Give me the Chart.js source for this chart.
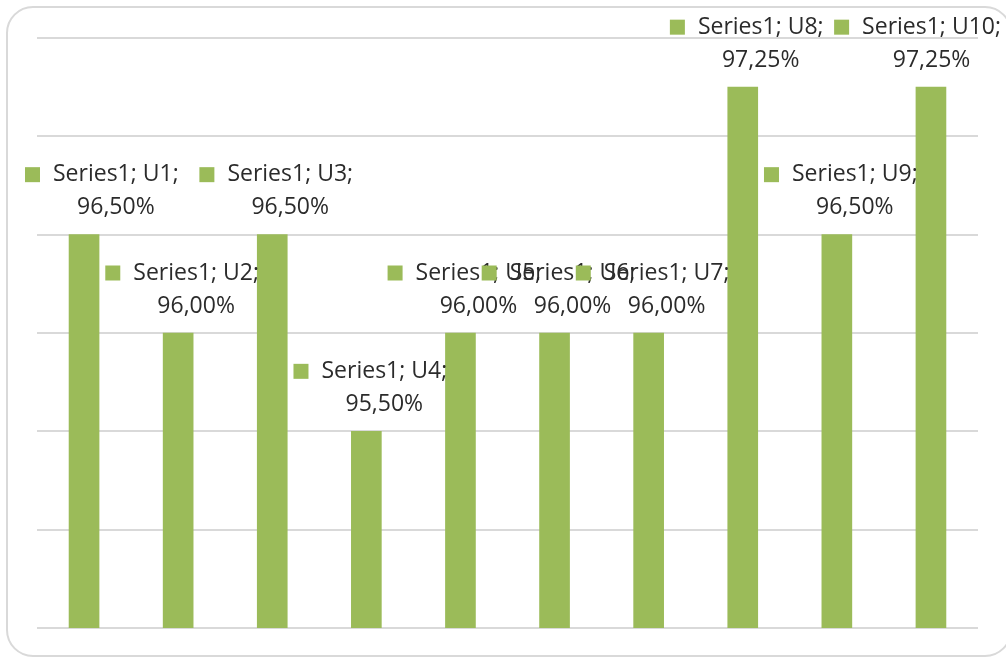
<!DOCTYPE html>
<html>
<head>
<meta charset="utf-8">
<script src="https://cdn.jsdelivr.net/npm/chart.js@4.4.1/dist/chart.umd.min.js"></script>
<style>
  html, body { margin: 0; padding: 0; background: #fff; overflow: hidden; }
  #wrap { width: 1006px; height: 657px; position: relative; }
</style>
</head>
<body>
<div id="wrap"><canvas id="c" width="1006" height="657"></canvas></div>
<script>
const CATEGORIES = ["U1", "U2", "U3", "U4", "U5", "U6", "U7", "U8", "U9", "U10"];
const SERIES_NAME = "Series1";
const VALUES = [96.5, 96.0, 96.5, 95.5, 96.0, 96.0, 96.0, 97.25, 96.5, 97.25];
const Y_MIN = 94.5;
const Y_MAX = 97.5;
const Y_STEP = 0.5;

const GREEN = "#9bbb59";
const GRID = "#d9d9d9";
const TEXT = "#2b2b2b";
const FONT = '23px "Open Sans", "Noto Sans", sans-serif';

function pct(v) {
  return v.toFixed(2).replace(".", ",") + "%";
}

// rounded frame around the whole chart, like the Excel chart area border
const framePlugin = {
  id: "frame",
  beforeDraw(chart) {
    const ctx = chart.ctx;
    ctx.save();
    ctx.strokeStyle = GRID;
    ctx.lineWidth = 2;
    ctx.beginPath();
    ctx.roundRect(7, 7, 1004, 649, 26);
    ctx.stroke();
    ctx.restore();
  },
};

// data labels: "■ Series1; Ux;" over value, stacked above each bar
const labelPlugin = {
  id: "labels",
  afterDatasetsDraw(chart) {
    const ctx = chart.ctx;
    const meta = chart.getDatasetMeta(0);
    ctx.save();
    ctx.font = FONT;
    ctx.textBaseline = "middle";
    meta.data.forEach((bar, i) => {
      const line1 = `${SERIES_NAME}; ${CATEGORIES[i]};`;
      const line2 = pct(VALUES[i]);
      const markW = 15, gap = 13;
      const w1 = ctx.measureText(line1).width;
      const boxW = markW + gap + w1;
      let left = bar.x + 4 - boxW / 2;
      if (left < 25) left = 25;
      if (left + boxW > 1001) left = 1001 - boxW;
      const y1 = bar.y - 60;
      const y2 = bar.y - 27;
      ctx.fillStyle = GREEN;
      ctx.fillRect(left, y1 - 7.5, markW, markW);
      ctx.fillStyle = TEXT;
      ctx.textAlign = "left";
      const tx = left + markW + gap;
      ctx.fillText(line1, tx, y1);
      ctx.textAlign = "center";
      ctx.fillText(line2, tx + w1 / 2, y2);
    });
    ctx.restore();
  },
};

new Chart(document.getElementById("c"), {
  type: "bar",
  data: {
    labels: CATEGORIES,
    datasets: [{
      label: SERIES_NAME,
      data: VALUES,
      backgroundColor: GREEN,
      borderWidth: 0,
      barThickness: 30,
    }],
  },
  options: {
    animation: false,
    responsive: false,
    events: [],
    layout: { padding: { left: 37, top: 38, right: 28, bottom: 29 } },
    plugins: { legend: { display: false }, tooltip: { enabled: false } },
    scales: {
      x: {
        display: true,
        ticks: { display: false },
        grid: { display: false, drawTicks: false },
        border: { display: false },
      },
      y: {
        min: Y_MIN,
        max: Y_MAX,
        ticks: { display: false, stepSize: Y_STEP },
        grid: { color: GRID, lineWidth: 2, drawTicks: false },
        border: { display: false },
      },
    },
  },
  plugins: [framePlugin, labelPlugin],
});
</script>
</body>
</html>
